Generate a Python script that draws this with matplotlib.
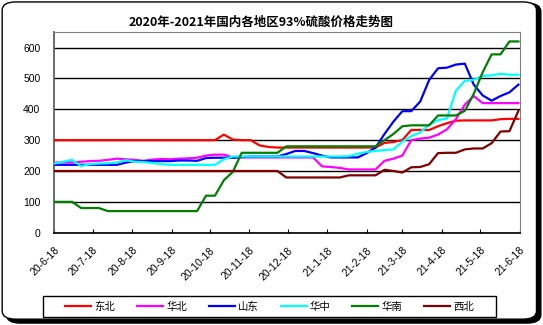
import pandas as pd
import matplotlib.pyplot as plt
from matplotlib.patches import FancyBboxPatch, Rectangle

plt.rcParams['font.family'] = ['Noto Sans CJK SC', 'DejaVu Sans']

# weekly price points, 2020-06-18 .. 2021-06-17
dates = pd.date_range('2020-06-18', periods=53, freq='7D')

dongbei = [300, 300, 300, 300, 300, 300, 300, 300, 300, 300,
           300, 300, 300, 300, 300, 300, 300, 300, 300, 318,
           302, 300, 300, 283, 278, 276, 276, 276, 276, 276,
           276, 276, 276, 276, 276, 276, 276, 291, 294, 300,
           333, 333, 333, 345, 355, 363, 364, 364, 364, 364,
           368, 369, 369]
huabei = [227, 228, 228, 230, 232, 233, 236, 240, 238, 236,
          233, 237, 239, 238, 240, 241, 243, 250, 253, 253,
          244, 244, 244, 244, 244, 244, 244, 244, 244, 244,
          215, 213, 210, 205, 205, 205, 205, 233, 240, 250,
          300, 305, 308, 318, 335, 368, 415, 443, 420, 420,
          420, 420, 420]
shandong = [220, 220, 220, 220, 220, 220, 220, 220, 227, 232,
            232, 232, 232, 232, 234, 234, 233, 242, 243, 243,
            243, 245, 247, 247, 247, 247, 255, 265, 265, 258,
            250, 244, 244, 244, 244, 258, 276, 320, 360, 394,
            394, 425, 495, 533, 535, 545, 548, 480, 445, 428,
            443, 455, 480]
huazhong = [224, 230, 236, 216, 222, 224, 225, 228, 235, 230,
            229, 226, 222, 220, 220, 220, 220, 220, 220, 238,
            247, 247, 247, 247, 247, 247, 247, 247, 247, 247,
            247, 247, 247, 248, 256, 262, 265, 268, 270, 295,
            313, 325, 350, 365, 370, 460, 492, 496, 508, 510,
            515, 512, 512]
huanan = [100, 100, 100, 80, 80, 80, 70, 70, 70, 70,
          70, 70, 70, 70, 70, 70, 70, 120, 120, 170,
          197, 259, 259, 259, 259, 259, 280, 280, 280, 280,
          280, 280, 280, 280, 280, 280, 280, 300, 320, 345,
          348, 348, 348, 380, 380, 380, 395, 450, 520, 578,
          578, 620, 620]
xibei = [200, 200, 200, 200, 200, 200, 200, 200, 200, 200,
         200, 200, 200, 200, 200, 200, 200, 200, 200, 200,
         200, 200, 200, 200, 200, 200, 179, 179, 179, 179,
         179, 179, 179, 186, 186, 186, 186, 204, 200, 195,
         212, 213, 222, 258, 259, 259, 270, 273, 273, 290,
         328, 329, 395]

names = ['东北', '华北', '山东', '华中', '华南', '西北']
colors = ['#FF0000', '#FF00FF', '#0000FF', '#00FFFF', '#008000', '#800000']
series = [dongbei, huabei, shandong, huazhong, huanan, xibei]

tick_dates = [pd.Timestamp(2020 + (5 + k) // 12, (5 + k) % 12 + 1, 18) for k in range(13)]
tick_labels = [f'{d.year % 100}-{d.month}-{d.day}' for d in tick_dates]

fig = plt.figure(figsize=(5.43, 3.25), dpi=100)

# outer frame with shadow
shadow = FancyBboxPatch((0.012, 0.006), 0.984, 0.984, boxstyle='round,pad=0,rounding_size=0.025',
                        transform=fig.transFigure, facecolor='black', edgecolor='black', zorder=0)
frame = FancyBboxPatch((0.004, 0.018), 0.984, 0.976, boxstyle='round,pad=0,rounding_size=0.025',
                       transform=fig.transFigure, facecolor='white', edgecolor='black', lw=1, zorder=1)
# legend box
legbox = Rectangle((43 / 543, 1 - 317 / 325), 453 / 543, 21 / 325, transform=fig.transFigure,
                   facecolor='white', edgecolor='black', lw=1, zorder=2)
fig.patches.extend([shadow, frame, legbox])

ax = fig.add_axes([0.100, 0.284, 0.857, 0.617])
ax.set_zorder(2)

for vals, c, n in zip(series, colors, names):
    ax.plot(dates, vals, color=c, lw=1.6, label=n, zorder=3)

ax.set_ylim(0, 650)
ax.set_yticks(range(0, 700, 100))
ax.yaxis.grid(True, color='black', lw=1)
ax.set_axisbelow(True)
ax.set_xlim(tick_dates[0], tick_dates[-1])
ax.set_xticks(tick_dates)
ax.set_xticklabels(tick_labels, rotation=45, ha='right', rotation_mode='anchor',
                   family=['Liberation Sans', 'DejaVu Sans'], fontsize=7.5)
for t in ax.get_yticklabels():
    t.set_family(['Liberation Sans', 'DejaVu Sans'])
    t.set_fontsize(7.5)
ax.tick_params(axis='x', direction='in', length=3, pad=9, color='black')
ax.tick_params(axis='y', length=0, pad=10)

for s in ['top', 'right']:
    ax.spines[s].set_color('#808080')
ax.spines['left'].set_color('#606060')
ax.spines['left'].set_linewidth(1.3)
ax.spines['bottom'].set_color('black')
ax.spines['bottom'].set_linewidth(1.2)

fig.text(0.480, 0.93, '2020年-2021年国内各地区93%硫酸价格走势图', ha='center', va='center',
         fontsize=9, fontweight='bold')

leg = fig.legend(loc='center', bbox_to_anchor=(0.4965, 0.057), ncol=6, frameon=False,
                 fontsize=7.5, handlelength=2.5, columnspacing=2.1, handletextpad=0.3,
                 borderpad=0.2)
leg.set_zorder(5)

fig.savefig('out.png', dpi=100)
